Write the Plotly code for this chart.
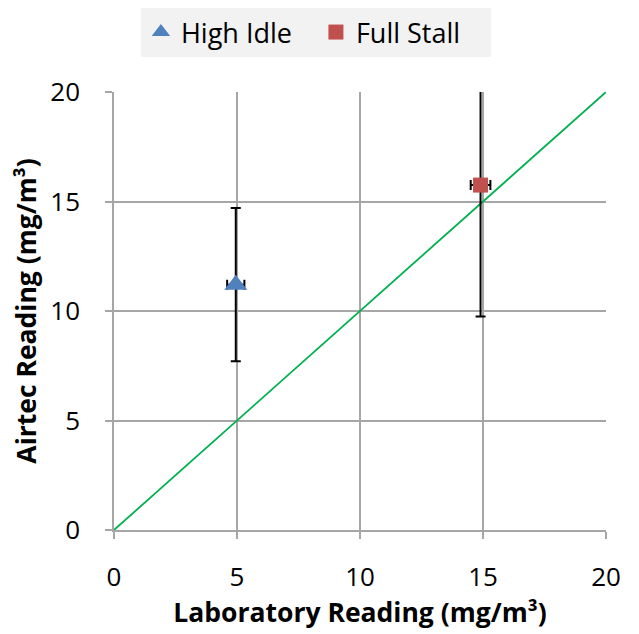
import plotly.graph_objects as go

series_names = ["High Idle", "Full Stall"]
lab_values = [4.95, 14.9]
airtec_values = [11.2, 15.75]
airtec_err = [3.5, 6.0]
lab_err = [0.35, 0.4]
line_x = [0, 20]
line_y = [0, 20]
tick_vals = [0, 5, 10, 15, 20]

colors = ["#4F81BD", "#C0504D"]
symbols = ["triangle-up", "square"]
sizes = [20, 15]

fig = go.Figure()
fig.add_trace(go.Scatter(x=line_x, y=line_y, mode="lines",
                         line=dict(color="#00B050", width=1.8),
                         showlegend=False, hoverinfo="skip"))
for i, name in enumerate(series_names):
    fig.add_trace(go.Scatter(
        x=[lab_values[i]], y=[airtec_values[i]], mode="markers", name=name,
        marker=dict(symbol=symbols[i], color=colors[i], size=sizes[i]),
        error_y=dict(type="data", array=[airtec_err[i]], color="black", thickness=2, width=5),
        error_x=dict(type="data", array=[lab_err[i]], color="black", thickness=2, width=5),
    ))

font_family = "'Open Sans', Lato, sans-serif"
fig.update_layout(
    width=631, height=626,
    margin=dict(l=106, r=33, t=84, b=104),
    paper_bgcolor="white", plot_bgcolor="white",
    font=dict(family=font_family, color="black", size=26),
    showlegend=True,
    legend=dict(orientation="h", x=0.488, xanchor="center", y=1.0, yanchor="top",
                yref="container", xref="container", bgcolor="#F2F2F2", font=dict(size=27),
                itemwidth=30, entrywidth=130, entrywidthmode="pixels"),
    xaxis=dict(range=[0, 20], tickvals=tick_vals, showgrid=True, gridcolor="#A6A6A6", gridwidth=1.5,
               showline=True, linecolor="#A6A6A6", linewidth=1.5, ticks="outside", ticklen=7,
               tickcolor="#A6A6A6", tickwidth=1.5, zeroline=False, mirror=False,
               ticklabelstandoff=16,
               title=dict(text="<b>Laboratory Reading (mg/m³)</b>", font=dict(size=26.5), standoff=8),
               tickfont=dict(size=26)),
    yaxis=dict(range=[0, 20], tickvals=tick_vals, showgrid=True, gridcolor="#A6A6A6", gridwidth=1.5,
               showline=True, linecolor="#A6A6A6", linewidth=1.5, ticks="outside", ticklen=7,
               tickcolor="#A6A6A6", tickwidth=1.5, zeroline=False,
               ticklabelstandoff=20,
               title=dict(text="<b>Airtec Reading (mg/m³)</b>", font=dict(size=26.5), standoff=6),
               tickfont=dict(size=26)),
)
fig.write_html("out.html")
